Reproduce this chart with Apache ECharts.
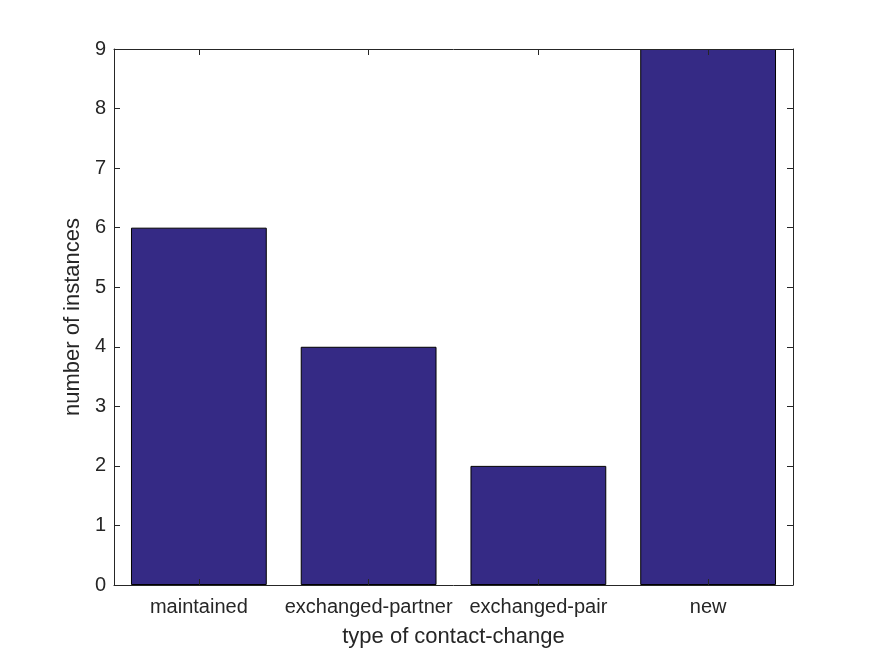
<!DOCTYPE html>
<html><head><meta charset="utf-8">
<script src="https://cdn.jsdelivr.net/npm/echarts@6/dist/echarts.min.js"></script>
<style>html,body{margin:0;padding:0;background:#fff}#c{width:875px;height:656px}</style>
</head><body><div id="c"></div>
<script>
var categories = ['maintained', 'exchanged-partner', 'exchanged-pair', 'new'];
var values = [6, 4, 2, 9];
var yTicks = [0, 1, 2, 3, 4, 5, 6, 7, 8, 9];

var chart = echarts.init(document.getElementById('c'), null, {renderer: 'canvas'});
var font = 'Helvetica, Arial, "Liberation Sans", sans-serif';
var axisLine = {show: true, onZero: false, lineStyle: {color: '#262626', width: 1}};
var tick = {show: true, inside: true, alignWithLabel: true, interval: 0, length: 6, lineStyle: {color: '#262626'}};
chart.setOption({
  animation: false,
  backgroundColor: '#fff',
  grid: {left: 114, right: 82, top: 49, bottom: 71, containLabel: false},
  xAxis: [{
    type: 'category', data: categories, position: 'bottom', z: 10,
    name: 'type of contact-change', nameLocation: 'middle', nameGap: 41,
    nameTextStyle: {fontFamily: font, fontSize: 22, color: '#262626'},
    axisLine: axisLine,
    axisTick: tick,
    axisLabel: {interval: 0, fontFamily: font, fontSize: 20, color: '#262626', margin: 12},
    splitLine: {show: false}
  }, {
    type: 'category', data: categories, position: 'top', z: 10,
    axisLine: axisLine,
    axisTick: tick,
    axisLabel: {show: false, interval: 0}, splitLine: {show: false}
  }],
  yAxis: [{
    type: 'value', min: yTicks[0], max: yTicks[yTicks.length - 1], interval: 1, position: 'left', z: 10,
    name: 'number of instances', nameLocation: 'middle', nameGap: 28,
    nameTextStyle: {fontFamily: font, fontSize: 22, color: '#262626'},
    axisLine: axisLine,
    axisTick: {show: true, inside: true, length: 6, lineStyle: {color: '#262626'}},
    axisLabel: {fontFamily: font, fontSize: 20, color: '#262626', margin: 8},
    splitLine: {show: false}
  }, {
    type: 'value', min: yTicks[0], max: yTicks[yTicks.length - 1], interval: 1, position: 'right', z: 10,
    axisLine: axisLine,
    axisTick: {show: true, inside: true, length: 6, lineStyle: {color: '#262626'}},
    axisLabel: {show: false}, splitLine: {show: false}
  }],
  series: [{
    type: 'bar', data: values, xAxisIndex: 0, yAxisIndex: 0, z: 2,
    barCategoryGap: '20%',
    itemStyle: {color: '#352a85', borderColor: '#000', borderWidth: 1}
  }]
});
</script></body></html>
